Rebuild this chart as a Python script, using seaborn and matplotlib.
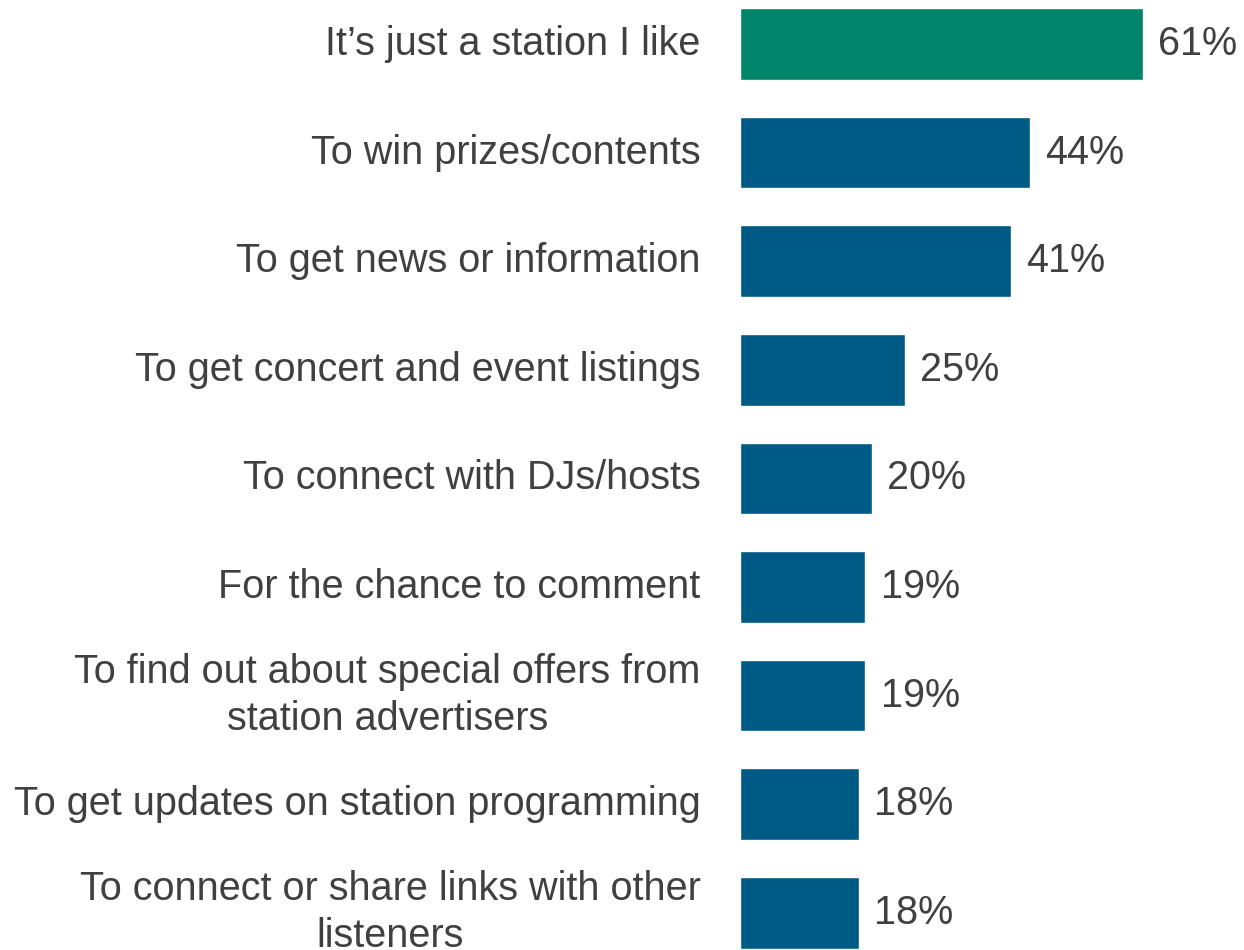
import matplotlib
matplotlib.use('Agg')
import matplotlib.pyplot as plt
import seaborn as sns
import pandas as pd

# Reasons for following the station
reasons = [
    "It\u2019s just a station I like",
    "To win prizes/contents",
    "To get news or information",
    "To get concert and event listings",
    "To connect with DJs/hosts",
    "For the chance to comment",
    "To find out about special offers from\nstation advertisers",
    "To get updates on station programming",
    "To connect or share links with other\nlisteners",
]
percent = [61, 44, 41, 25, 20, 19, 19, 18, 18]
highlight = ["top", "other", "other", "other", "other", "other", "other", "other", "other"]

df = pd.DataFrame({"reason": reasons, "percent": percent, "group": highlight})

sns.set_theme(style="white")
plt.rcParams['font.family'] = ['Liberation Sans', 'DejaVu Sans']

fig = plt.figure(figsize=(12.44, 9.5), dpi=100)
ax = fig.add_axes([740 / 1244, 0, 462 / 1244, 1])

sns.barplot(data=df, x="percent", y="reason", hue="group",
            palette={"top": "#00856A", "other": "#005A86"},
            width=0.66, legend=False, ax=ax, saturation=1)

ax.set_xlim(0, 70)
ax.set_ylim(8.343, -0.405)
ax.set_xlabel("")
ax.set_ylabel("")
ax.set_xticks([])
ax.set_yticks([])
for s in ax.spines.values():
    s.set_visible(False)

text_color = "#404040"
for i, (r, p) in enumerate(zip(reasons, percent)):
    ax.text(p + 2.3, i, f"{p}%", va="center", ha="left",
            fontsize=28.5, color=text_color, clip_on=False)
    ax.text(-6, i, r, va="center", ha="right", multialignment="center",
            fontsize=28.5, color=text_color, clip_on=False, linespacing=1.3)

fig.savefig("out.png", dpi=100)
